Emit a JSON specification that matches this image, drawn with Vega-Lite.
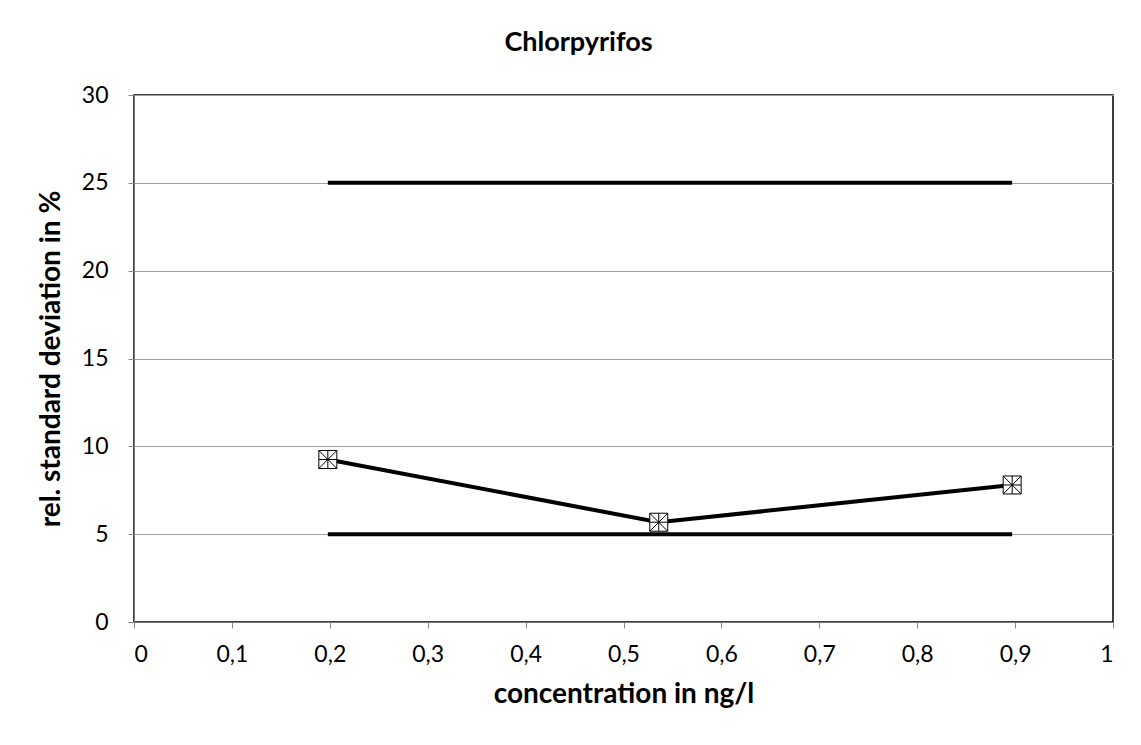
{
  "$schema": "https://vega.github.io/schema/vega-lite/v6.json",
  "autosize": {"type": "none"},
  "width": 979,
  "height": 527,
  "padding": {"left": 134, "top": 95, "right": 28, "bottom": 123},
  "background": "white",
  "title": {"text": "Chlorpyrifos", "font": "Lato", "fontSize": 27, "fontWeight": "bold", "color": "black", "anchor": "middle", "dx": -45, "offset": 27},
  "config": {
    "view": {"stroke": "black", "strokeWidth": 1.5},
    "axis": {"labelFont": "Lato", "labelFontSize": 23, "labelColor": "black", "titleFont": "Lato", "titleFontSize": 28, "titleFontWeight": "bold", "titleColor": "black", "domainColor": "#777777", "tickColor": "#888888", "tickSize": 6}
  },
  "data": {"values": [
    {"series": "rsd", "conc": 0.198, "value": 9.25},
    {"series": "rsd", "conc": 0.536, "value": 5.68},
    {"series": "rsd", "conc": 0.897, "value": 7.8},
    {"series": "lower", "conc": 0.198, "value": 5},
    {"series": "lower", "conc": 0.897, "value": 5},
    {"series": "upper", "conc": 0.198, "value": 25},
    {"series": "upper", "conc": 0.897, "value": 25}
  ]},
  "encoding": {
    "x": {"field": "conc", "type": "quantitative", "scale": {"domain": [0, 1], "nice": false},
      "axis": {"title": "concentration in ng/l", "values": [0, 0.1, 0.2, 0.3, 0.4, 0.5, 0.6, 0.7, 0.8, 0.9, 1], "labelExpr": "replace(format(datum.value, '.1~f'), '.', ',')", "grid": false, "labelPadding": 15, "titlePadding": 14}},
    "y": {"field": "value", "type": "quantitative", "scale": {"domain": [0, 30], "nice": false},
      "axis": {"title": "rel. standard deviation in %", "values": [0, 5, 10, 15, 20, 25, 30], "grid": true, "gridColor": "#a0a0a0", "gridWidth": 1, "labelPadding": 20, "titlePadding": 16}}
  },
  "layer": [
    {"mark": {"type": "line", "strokeWidth": 4, "color": "black"},
     "encoding": {"detail": {"field": "series"}}},
    {"transform": [{"filter": "datum.series == 'rsd'"}],
     "mark": {"type": "point", "shape": "M-1,-1H1V1H-1Z", "filled": true, "fill": "white", "stroke": "black", "strokeWidth": 1, "size": 324, "opacity": 1}},
    {"transform": [{"filter": "datum.series == 'rsd'"}],
     "mark": {"type": "point", "shape": "M-1,-1L1,1M1,-1L-1,1M0,-1V1M-1,0H1", "filled": false, "stroke": "black", "strokeWidth": 1, "size": 324, "opacity": 1}}
  ]
}
